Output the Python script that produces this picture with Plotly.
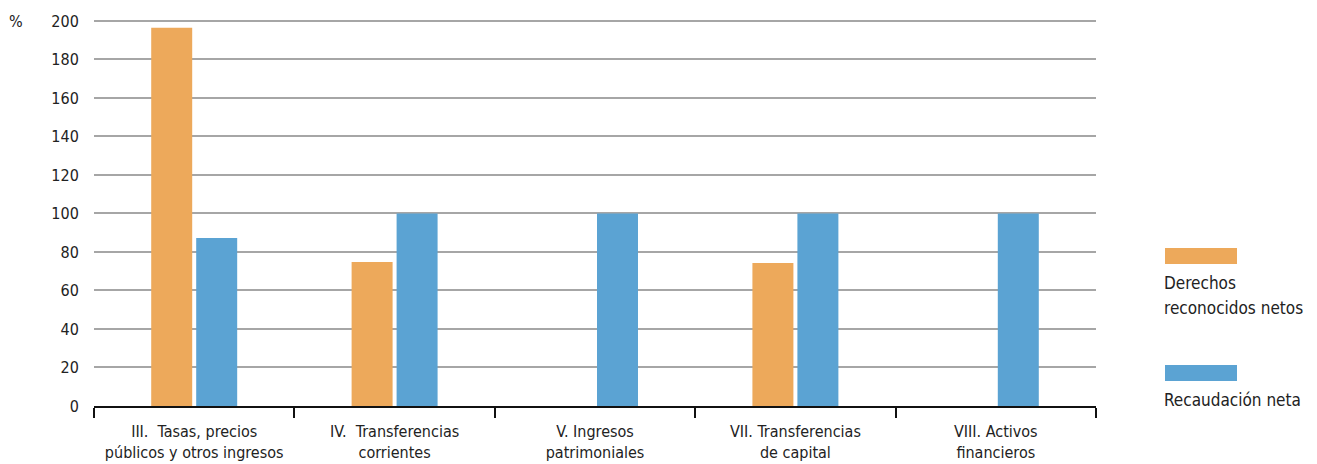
import plotly.graph_objects as go

categories = [
    "III.  Tasas, precios<br>públicos y otros ingresos",
    "IV.  Transferencias<br>corrientes",
    "V. Ingresos<br>patrimoniales",
    "VII. Transferencias<br>de capital",
    "VIII. Activos<br>financieros",
]
derechos = [196.4, 74.8, None, 74.3, None]
recaudacion = [87.3, 100, 100, 100, 100]
legend_lines = [["Derechos", "reconocidos netos"], ["Recaudación neta"]]
y_ticks = [0, 20, 40, 60, 80, 100, 120, 140, 160, 180, 200]

orange = "#EDA95B"
blue = "#5BA3D3"
font = "DejaVu Sans Condensed, Roboto, sans-serif"
txt = "#222222"

# page has an 8px body margin; plot area in page coords: x 94..1096, y 19..406
PL, PR, PB = 94, 1096, 406
PW = PR - PL
PH = 387

fig = go.Figure()
fig.add_trace(go.Bar(x=categories, y=derechos, marker_color=orange, marker_line_width=0, name="Derechos reconocidos netos", showlegend=False))
fig.add_trace(go.Bar(x=categories, y=recaudacion, marker_color=blue, marker_line_width=0, name="Recaudación neta", showlegend=False))

fig.update_layout(
    width=1309, height=456,
    margin=dict(l=86, r=1309 - 86 - PW, t=11, b=58),
    plot_bgcolor="white", paper_bgcolor="white",
    barmode="group", bargap=0.551, bargroupgap=0.089,
    font=dict(family=font, size=15, color=txt),
)
fig.update_xaxes(
    showgrid=False, showline=True, linecolor="#111111", linewidth=2,
    ticks="outside", tickson="boundaries", ticklen=10, tickwidth=2, tickcolor="#111111",
    tickfont=dict(size=16, color=txt), ticklabelstandoff=10, automargin=False, fixedrange=True,
)
fig.update_yaxes(
    range=[0, 201], tickvals=y_ticks, showgrid=True, gridcolor="#A6A6A6", gridwidth=2,
    zeroline=False, showline=False, ticks="outside", ticklen=11, tickcolor="rgba(0,0,0,0)",
    tickfont=dict(size=16, color=txt), automargin=False,
)

# unit label
fig.add_annotation(text="%", xref="paper", yref="paper", x=(7 - PL) / PW, y=(PB - 21) / PH,
                   xanchor="left", yanchor="middle", showarrow=False, font=dict(size=16, color=txt))

# custom legend on right
colors = [orange, blue]
swatch_y = [256, 373]  # pixel centers (page coords)
for lines, col, yc in zip(legend_lines, colors, swatch_y):
    fig.add_shape(type="rect", xref="paper", yref="paper",
                  x0=(1165 - PL) / PW, x1=(1237 - PL) / PW,
                  y0=(PB - (yc + 8)) / PH, y1=(PB - (yc - 8)) / PH,
                  fillcolor=col, line_width=0)
    for i, line in enumerate(lines):
        fig.add_annotation(text=line, xref="paper", yref="paper",
                           x=(1162 - PL) / PW, y=(PB - (yc + 27 + 25 * i)) / PH,
                           xanchor="left", yanchor="middle", align="left", showarrow=False,
                           font=dict(size=17, color=txt))

fig.write_html("out.html")
